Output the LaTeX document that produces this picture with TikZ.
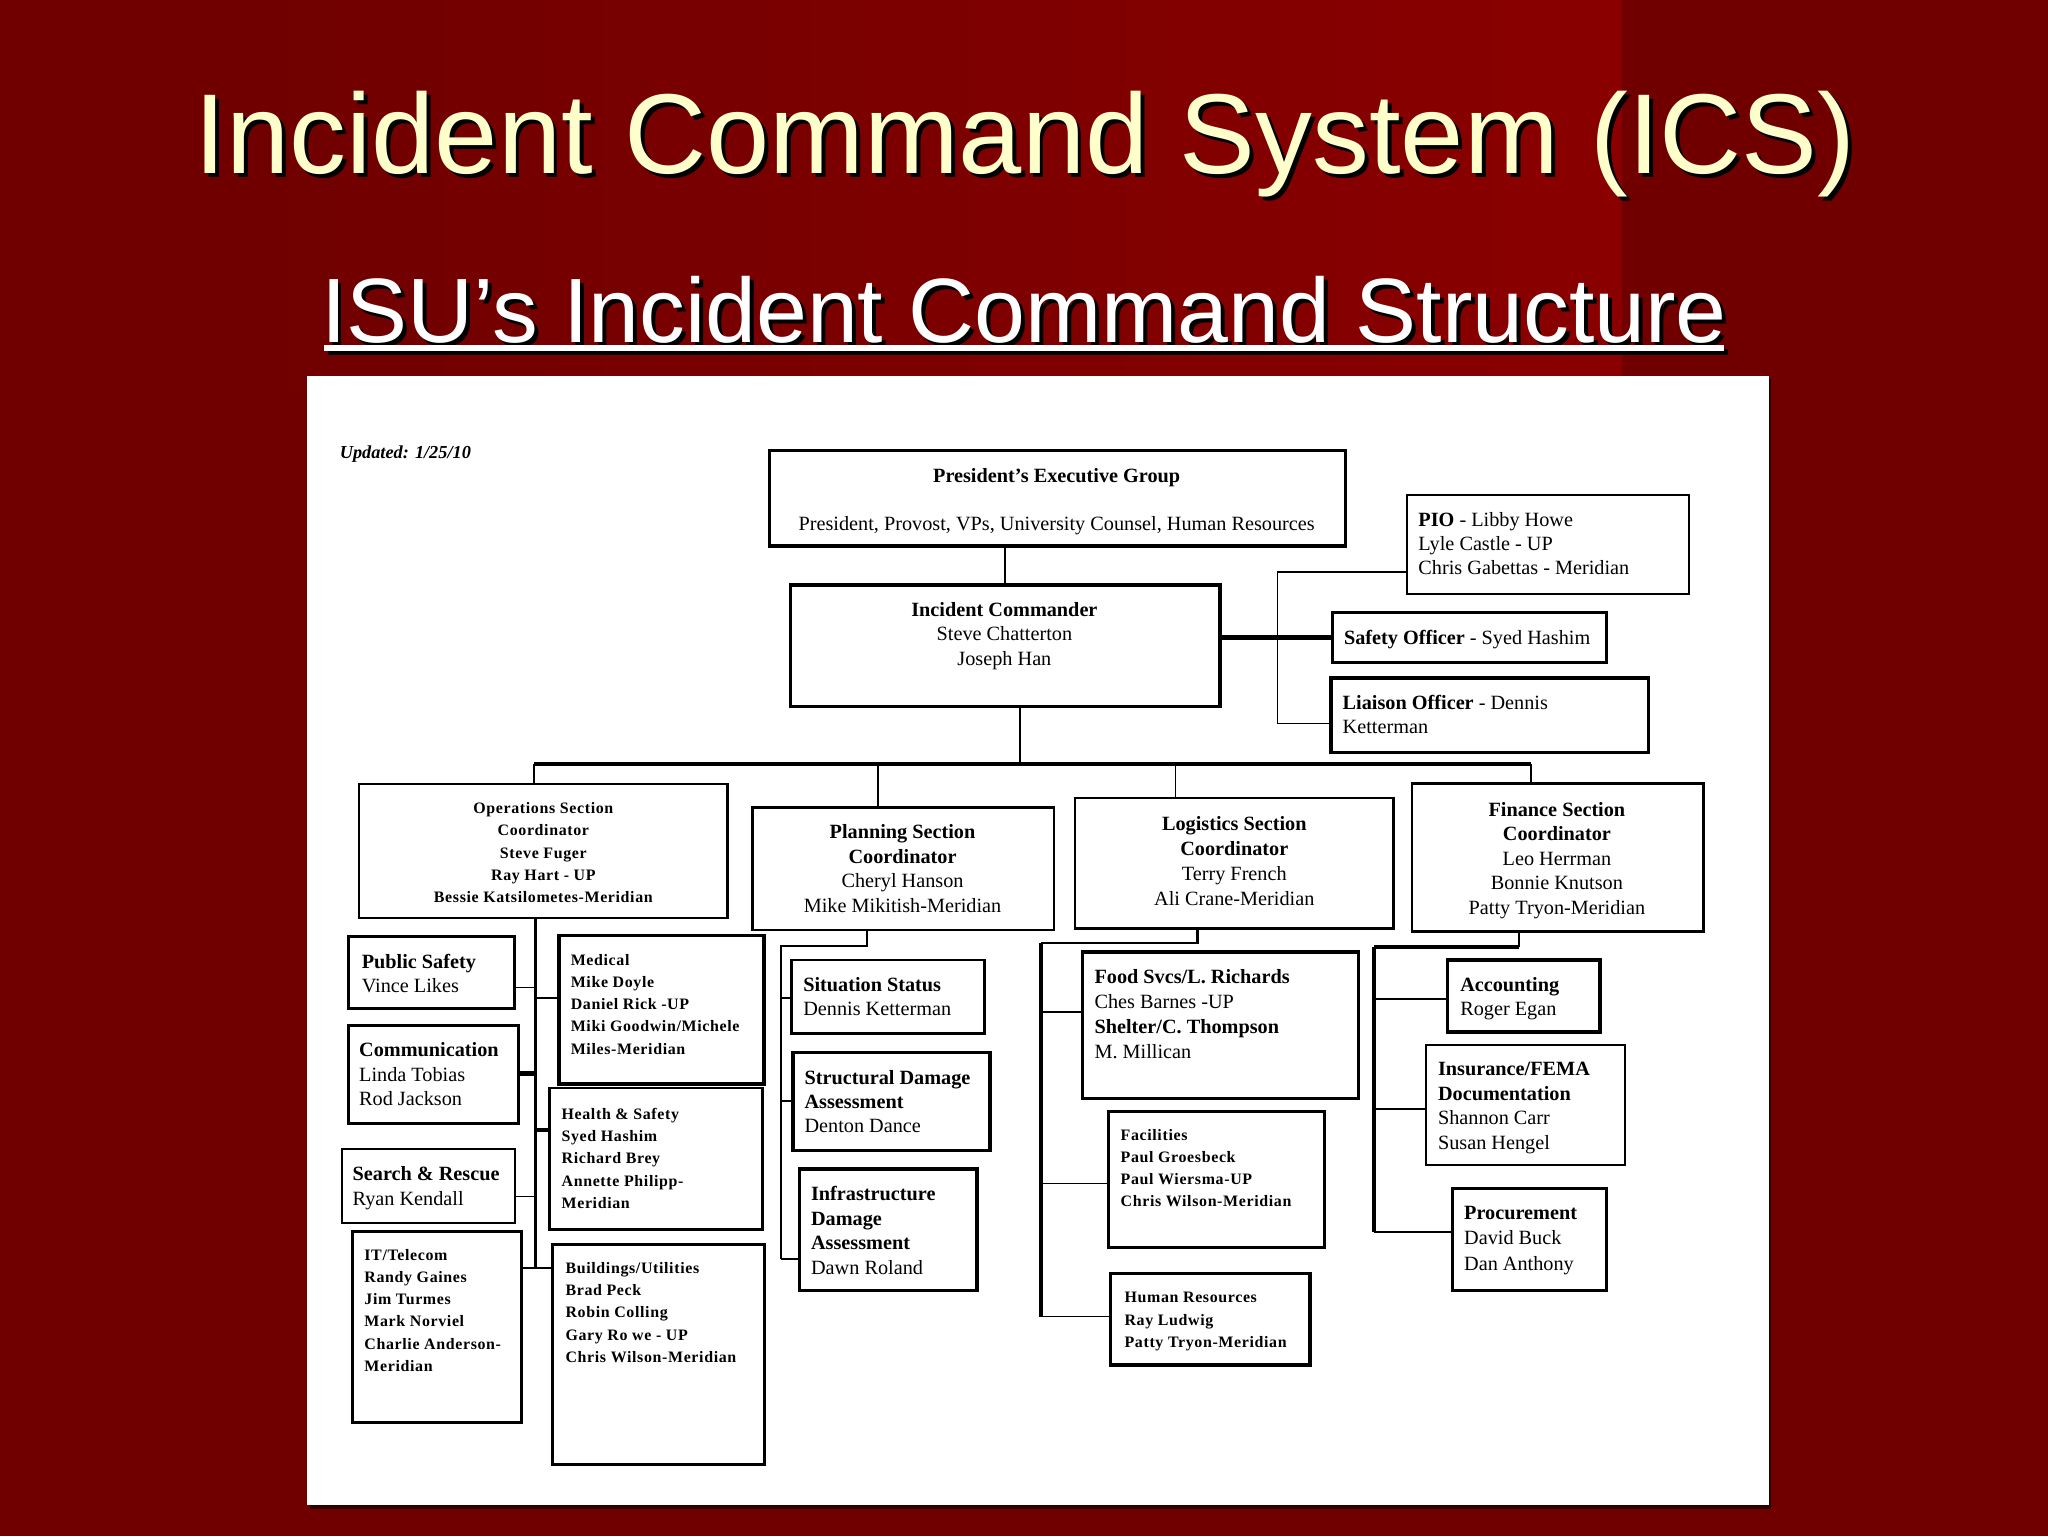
\documentclass[tikz,border=0pt]{standalone}
\usepackage{fontspec}
\setmainfont{Liberation Serif}
\newfontfamily\arialf{Liberation Sans}
\newfontfamily\sbf[LetterSpace=4]{Liberation Serif}
\definecolor{bgdark}{HTML}{700000}
\definecolor{bgbright}{HTML}{8A0000}
\definecolor{cream}{HTML}{FFFFCC}
\newcommand\bx[6][]{\node[box,#1,minimum width={#4-#2},minimum height={#5-#3}] (#6) at ({(#2+#4)/2},{(#3+#5)/2}) {};}
\tikzset{
  box/.style={draw,line width=2.2pt,fill=white,inner sep=0pt,outer sep=0pt},
  bthin/.style={line width=1.6pt},
  bthick/.style={line width=2.6pt},
  conn/.style={line width=1.3pt},
  trunk/.style={line width=2.4pt},
  fat/.style={line width=3.4pt},
  t/.style={inner sep=0pt,outer sep=0pt,align=left,anchor=north west,font=\fontsize{15.5}{18.5}\selectfont},
  tc/.style={t,align=center,anchor=north},
  s/.style={inner sep=0pt,outer sep=0pt,align=left,anchor=north west,font=\sbf\bfseries\fontsize{12.2}{17}\selectfont},
  sc/.style={s,align=center,anchor=north},
}
\begin{document}
\begin{tikzpicture}[x=1pt,y=-1pt]
\useasboundingbox (0,0) rectangle (1568,1176);
% background
\fill[bgdark] (0,0) rectangle (1568,1176);
\shade[left color=bgdark,right color=bgbright] (200,0) rectangle (1242,300);
% titles
\node[font=\arialf\fontsize{87}{90}\selectfont,text=black,anchor=base] (titleshadow) at (788,136) {Incident Command System (ICS)};
\node[font=\arialf\fontsize{87}{90}\selectfont,text=cream,anchor=base] (title) at (785,133) {Incident Command System (ICS)};
\node[font=\arialf\fontsize{70}{74}\selectfont,text=black,anchor=base] (subshadow) at (787,265) {ISU’s Incident Command Structure};
\fill[black] (251,267) rectangle (1323,272);
\node[font=\arialf\fontsize{70}{74}\selectfont,text=white,anchor=base] (sub) at (784,262) {ISU’s Incident Command Structure};
\fill[white] (248,264) rectangle (1320,268.5);
% panel
\fill[black!60!bgdark] (237,290) rectangle (1356,1155);
\fill[white] (235,288) rectangle (1354,1152);
\node[inner sep=0pt,anchor=north west,font=\bfseries\itshape\fontsize{14}{16}\selectfont] (upd) at (260,341) {Updated: 1/25/10};

% ---------- top level ----------
\bx[bthick]{589}{345}{1030}{418}{peg}
\node[tc] (pegt) at (809,358.4) {\textbf{President’s Executive Group}\\[18.5pt]President, Provost, VPs, University Counsel, Human Resources};
\bx[bthin]{1077}{379}{1293}{455}{pio}
\node[t] (piot) at (1086,392.4) {\textbf{PIO} - Libby Howe\\Lyle Castle - UP\\Chris Gabettas - Meridian};
\bx[bthick]{605}{448}{934}{541}{ic}
\node[tc] (ict) at (769,461.4) {\textbf{Incident Commander}\\Steve Chatterton\\Joseph Han};
\bx[bthick]{1020}{469}{1230}{507}{safety}
\node[t] (safetyt) at (1029,482.4) {\textbf{Safety Officer} - Syed Hashim};
\bx[bthick]{1019}{519}{1262}{576}{liaison}
\node[t] (liaisont) at (1028,532.4) {\textbf{Liaison Officer} - Dennis\\Ketterman};

% ---------- sections ----------
\bx[bthin]{275}{600}{557}{703}{ops}
\node[sc] (opst) at (416,614.5) {Operations Section\\Coordinator\\Steve Fuger\\Ray Hart - UP\\Bessie Katsilometes-Meridian};
\bx{576}{618}{807}{712}{plan}
\node[tc,font=\fontsize{15.5}{18.7}\selectfont] (plant) at (691,631.4) {\textbf{Planning Section}\\\textbf{Coordinator}\\Cheryl Hanson\\Mike Mikitish-Meridian};
\bx{823}{611}{1067}{711}{log}
\node[tc,font=\fontsize{15.5}{19}\selectfont] (logt) at (945,625.4) {\textbf{Logistics Section}\\\textbf{Coordinator}\\Terry French\\Ali Crane-Meridian};
\bx{1081}{600}{1304}{713}{fin}
\node[tc,font=\fontsize{15.5}{18.7}\selectfont] (fint) at (1192,614.4) {\textbf{Finance Section}\\\textbf{Coordinator}\\Leo Herrman\\Bonnie Knutson\\Patty Tryon-Meridian};

% ---------- operations units ----------
\bx[bthick]{267}{717}{394}{772}{pubs}
\node[t] (pubst) at (277,730.4) {\textbf{Public Safety}\\Vince Likes};
\bx[bthick]{428}{716}{585}{830}{med}
\node[s] (medt) at (437,730.5) {Medical\\Mike Doyle\\Daniel Rick -UP\\Miki Goodwin/Michele\\Miles-Meridian};
\bx{267}{785}{397}{860}{comm}
\node[t] (commt) at (275,798.4) {\textbf{Communication}\\Linda Tobias\\Rod Jackson};
\bx{421}{833}{584}{941}{hs}
\node[s] (hst) at (430,848.5) {Health \& Safety\\Syed Hashim\\Richard Brey\\Annette Philipp-\\Meridian};
\bx[bthin]{262}{880}{394}{936}{sar}
\node[t] (sart) at (270,893.4) {\textbf{Search \& Rescue}\\Ryan Kendall};
\bx{270}{943}{399}{1089}{it}
\node[s] (itt) at (279,956.5) {IT/Telecom\\Randy Gaines\\Jim Turmes\\Mark Norviel\\Charlie Anderson-\\Meridian};
\bx{423}{953}{585}{1121}{bldg}
\node[s] (bldgt) at (433,966.5) {Buildings/Utilities\\Brad Peck\\Robin Colling\\Gary Ro we - UP\\Chris Wilson-Meridian};

% ---------- planning units ----------
\bx{606}{735}{754}{791}{sit}
\node[t] (sitt) at (615,748.4) {\textbf{Situation Status}\\Dennis Ketterman};
\bx[bthick]{607}{806}{758}{881}{struct}
\node[t] (structt) at (616,819.4) {\textbf{Structural Damage}\\\textbf{Assessment}\\Denton Dance};
\bx[bthick]{612}{895}{748}{988}{infra}
\node[t,font=\fontsize{15.5}{18.7}\selectfont] (infrat) at (621,908.4) {\textbf{Infrastructure}\\\textbf{Damage}\\\textbf{Assessment}\\Dawn Roland};

% ---------- logistics units ----------
\bx[bthick]{829}{729}{1040}{841}{food}
\node[t,font=\fontsize{15.5}{19}\selectfont] (foodt) at (838,742.4) {\textbf{Food Svcs/L. Richards}\\Ches Barnes -UP\\\textbf{Shelter/C. Thompson}\\M. Millican};
\bx{849}{851}{1014}{955}{fac}
\node[s] (fact) at (858,864.5) {Facilities\\Paul Groesbeck\\Paul Wiersma-UP\\Chris Wilson-Meridian};
\bx[bthick]{850}{975}{1003}{1045}{hr}
\node[s] (hrt) at (861,989.5) {Human Resources\\Ray Ludwig\\Patty Tryon-Meridian};

% ---------- finance units ----------
\bx[bthick]{1108}{735}{1225}{790}{acct}
\node[t] (acctt) at (1118,748.4) {\textbf{Accounting}\\Roger Egan};
\bx[bthin]{1092}{800}{1244}{892}{ins}
\node[t,font=\fontsize{15.5}{18.7}\selectfont] (inst) at (1101,813.4) {\textbf{Insurance/FEMA}\\\textbf{Documentation}\\Shannon Carr\\Susan Hengel};
\bx[bthick]{1112}{910}{1230}{988}{proc}
\node[t,font=\fontsize{15.5}{19.5}\selectfont] (proct) at (1121,923.4) {\textbf{Procurement}\\David Buck\\Dan Anthony};

% ---------- connectors: top ----------
\draw[conn] (ic.north) -- (ic.north |- peg.south);
\draw[fat] (safety.west) -- (safety.west -| ic.east);
\coordinate (sb1) at (978,438);
\coordinate (sb2) at (978,554);
\draw[conn] (sb1 -| pio.west) -- (sb1) -- (sb2) -- (sb2 -| liaison.west);
\coordinate (bus) at (781,585);
\coordinate (busL) at (409,585);
\coordinate (busR) at (1172,585);
\coordinate (dplan) at (672,585);
\coordinate (dlog) at (900,585);
\draw[conn] (bus |- ic.south) -- (bus);
\draw[fat] (busL) -- (busR);
\draw[conn] (busL) -- (busL |- ops.north);
\draw[conn] (dplan) -- (dplan |- plan.north);
\draw[conn] (dlog) -- (dlog |- log.north);
\draw[conn] (busR) -- (busR |- fin.north);

% ---------- connectors: operations ----------
\coordinate (obot) at (410,971);
\draw[trunk] (obot |- ops.south) -- (obot);
\coordinate (o1) at (410,756);
\coordinate (o2) at (410,764);
\coordinate (o3) at (410,822);
\coordinate (o4) at (410,865);
\coordinate (o5) at (410,916);
\draw[conn] (o1) -- (o1 -| pubs.east);
\draw[conn] (o2) -- (o2 -| med.west);
\draw[fat] (o3) -- (o3 -| comm.east);
\draw[fat] (o4) -- (o4 -| hs.west);
\draw[conn] (o5) -- (o5 -| sar.east);
\draw[conn] (obot -| it.east) -- (obot -| bldg.west);

% ---------- connectors: planning ----------
\coordinate (p0) at (664,724);
\coordinate (p1) at (598,724);
\coordinate (p2) at (598,964);
\draw[conn] (p0 |- plan.south) -- (p0) -- (p1) -- (p2);
\coordinate (p3) at (598,764);
\coordinate (p4) at (598,843);
\draw[conn] (p3) -- (p3 -| sit.west);
\draw[conn] (p4) -- (p4 -| struct.west);
\draw[conn] (p2) -- (p2 -| infra.west);

% ---------- connectors: logistics ----------
\coordinate (l0) at (917,722);
\coordinate (l1) at (797,722);
\coordinate (l2) at (797,1008);
\draw[line width=2pt] (l0 |- log.south) -- (l0) -- (l1);
\draw[trunk] (l1) -- (l2);
\coordinate (l3) at (797,775);
\coordinate (l4) at (797,906);
\draw[conn] (l3) -- (l3 -| food.west);
\draw[conn] (l4) -- (l4 -| fac.west);
\draw[conn] (l2) -- (l2 -| hr.west);

% ---------- connectors: finance ----------
\coordinate (f0) at (1163,725);
\coordinate (f1) at (1052,725);
\coordinate (f2) at (1052,943);
\draw[conn] (f0 |- fin.south) -- (f0);
\draw[fat] (f0) -- (f1);
\draw[trunk] (f1) -- (f2);
\coordinate (f3) at (1052,765);
\coordinate (f4) at (1052,849);
\draw[conn] (f3) -- (f3 -| acct.west);
\draw[conn] (f4) -- (f4 -| ins.west);
\draw[conn] (f2) -- (f2 -| proc.west);
\end{tikzpicture}
\end{document}
